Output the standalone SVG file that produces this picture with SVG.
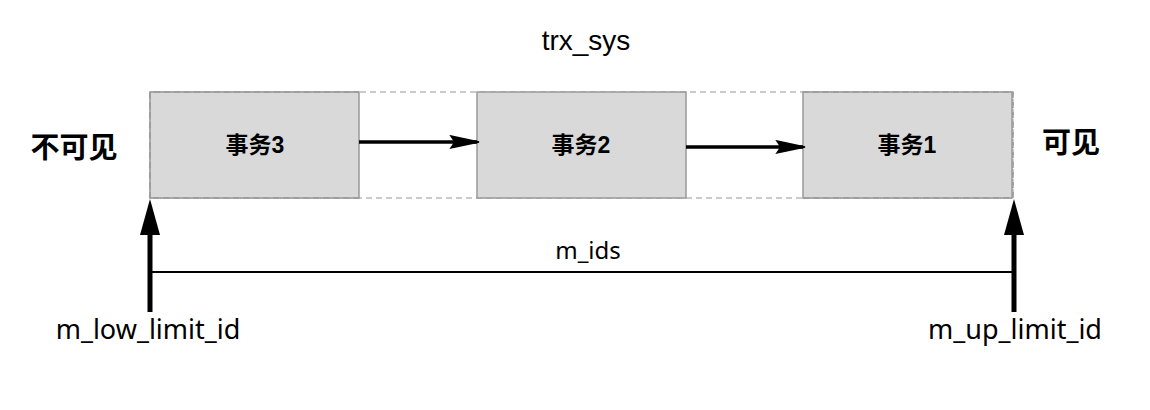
<svg xmlns="http://www.w3.org/2000/svg" width="1150" height="410" viewBox="0 0 1150 410">
<style>
.box{fill:#d9d9d9;stroke:#999;stroke-width:1.5}
.outer{fill:none;stroke:#bbb;stroke-width:1.5;stroke-dasharray:6 4}
.outerd{fill:none;stroke:#999;stroke-width:1.5;stroke-dasharray:6 4}
.lbl{font-family:"Liberation Sans","Noto Sans CJK SC",sans-serif;font-weight:bold;font-size:23px;fill:#000;text-anchor:middle}
.txt{font-family:"Noto Sans","Noto Sans CJK SC",sans-serif;font-size:27px;fill:#000;text-anchor:middle}
.cjk{font-family:"Noto Sans CJK SC",sans-serif;font-weight:bold;font-size:29px;fill:#000;text-anchor:middle}
</style>
<rect class="outer" x="150" y="92" width="863" height="106"/>
<g id="n3"><rect class="box" x="150" y="92" width="209" height="106"/><text class="lbl" x="255" y="153">事务3</text></g>
<g id="n2"><rect class="box" x="477" y="92" width="209" height="106"/><text class="lbl" x="581" y="153">事务2</text></g>
<g id="n1"><rect class="box" x="803" y="92" width="209" height="106"/><text class="lbl" x="907" y="153">事务1</text></g>
<path class="outerd" d="M150,198 V92 H359 M359,198 H150 M803,92 H1013 V198 H803"/>
<g id="connectors">
<line x1="359" y1="142" x2="477" y2="142" stroke="#000" stroke-width="3.5"/>
<path d="M451,136 L479,142 L451,148 L455,142 Z" fill="#000" stroke="#000" stroke-width="1.5"/>
<line x1="686" y1="147" x2="803" y2="147" stroke="#000" stroke-width="3.5"/>
<path d="M777,141 L805,147 L777,153 L781,147 Z" fill="#000" stroke="#000" stroke-width="1.5"/>
<line x1="150" y1="312" x2="150" y2="230" stroke="#000" stroke-width="5"/>
<path d="M140,235 L150,199 L160,235 Z" fill="#000"/>
<line x1="1014" y1="312" x2="1014" y2="230" stroke="#000" stroke-width="5"/>
<path d="M1004,235 L1014,199 L1024,235 Z" fill="#000"/>
<line x1="152" y1="272" x2="1012" y2="272" stroke="#000" stroke-width="2"/>
</g>
<text class="txt" x="588" y="259" style="font-size:24px">m_ids</text>
<text x="586" y="50" style="font-family:'Liberation Sans',sans-serif;font-size:28px;text-anchor:middle">trx_sys</text>
<text class="cjk" x="74" y="158">不可见</text>
<text class="cjk" x="1071" y="153">可见</text>
<text class="txt" x="148" y="339">m_low_limit_id</text>
<text class="txt" x="1015" y="339">m_up_limit_id</text>
</svg>
